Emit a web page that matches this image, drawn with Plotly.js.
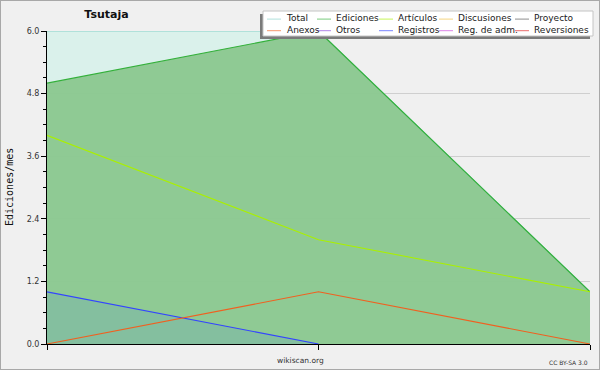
<!DOCTYPE html>
<html>
<head>
<meta charset="utf-8">
<script src="https://cdn.plot.ly/plotly-3.0.1.min.js"></script>
<style>
  html, body { margin: 0; padding: 0; background: #f0f0f0; }
  #wrap { position: relative; width: 600px; height: 370px; }
  #chart { width: 600px; height: 370px; }
  #frame { position: absolute; left: 0; top: 0; width: 598px; height: 368px;
           border: 1px solid #a8a8a8; pointer-events: none; }
</style>
</head>
<body>
<div id="wrap"><div id="chart"></div><div id="frame"></div></div>
<script>
// ---- data ----
const months = ['mes 1', 'mes 2', 'mes 3'];
const total       = [6, 6, 1];
const ediciones   = [5, 6, 1];
const articulos   = [4, 2, 1];
const discusiones = [null, null, null];
const proyecto    = [null, null, null];
const anexos      = [0, 1, 0];
const otros       = [null, null, null];
const registros   = [1, 0, null];
const regAdm      = [null, null, null];
const reversiones = [null, null, null];

const seriesNames  = ['Total', 'Ediciones', 'Artículos', 'Discusiones', 'Proyecto',
                      'Anexos', 'Otros', 'Registros', 'Reg. de adm.', 'Reversiones'];
const seriesValues = [total, ediciones, articulos, discusiones, proyecto,
                      anexos, otros, registros, regAdm, reversiones];
const seriesColors = ['#86d2ca', '#33b03a', '#aaf000', '#f0c040', '#555555',
                      '#f06020', '#8844dd', '#3344ff', '#cc44dd', '#e02020'];
const fillColors = {
  'Total': 'rgba(211,241,234,0.75)',
  'Ediciones': 'rgba(132,196,136,0.88)',
  'Registros': 'rgba(121,179,169,0.5)'
};
const drawOrder = ['Total', 'Ediciones', 'Registros', 'Artículos', 'Anexos',
                   'Discusiones', 'Proyecto', 'Otros', 'Reg. de adm.', 'Reversiones'];

const traces = drawOrder.map(name => {
  const i = seriesNames.indexOf(name);
  const t = {
    type: 'scatter', mode: 'lines', name: name,
    x: months, y: seriesValues[i],
    line: { color: seriesColors[i], width: name === 'Ediciones' ? 1.2 : 1.1 },
    showlegend: false, hoverinfo: 'skip'
  };
  if (fillColors[name]) { t.fill = 'tozeroy'; t.fillcolor = fillColors[name]; }
  return t;
});

// ---- layout helpers (pixel -> paper) ----
const PL = 47, PR = 590, PT = 31, PB = 344;
const px = p => (p - PL) / (PR - PL);
const py = p => (PB - p) / (PB - PT);

const shapes = [];
const annotations = [];

// legend box with shadow
shapes.push({ type: 'rect', xref: 'paper', yref: 'paper', layer: 'above',
  x0: px(260), x1: px(590), y0: py(14), y1: py(39),
  fillcolor: '#7a7a7a', line: { width: 0 } });
shapes.push({ type: 'rect', xref: 'paper', yref: 'paper', layer: 'above',
  x0: px(263), x1: px(593), y0: py(11), y1: py(36),
  fillcolor: '#ffffff', line: { color: '#c4c4c4', width: 1 } });

// legend: one text per column (two rows), swatches as short lines
const legendColX = [285, 335, 397, 457, 533];
const legendRowY = [18.6, 30.2];
const legendMidY = 24.4;
for (let col = 0; col < 5; col++) {
  const tx = legendColX[col];
  const names = [seriesNames[col], seriesNames[col + 5]];
  [col, col + 5].forEach((i, row) => {
    const ty = legendRowY[row];
    shapes.push({ type: 'line', xref: 'paper', yref: 'paper', layer: 'above',
      x0: px(tx - 18), x1: px(tx - 4), y0: py(ty + 0.5), y1: py(ty + 0.5),
      opacity: 0.65, line: { color: seriesColors[i], width: 1 } });
  });
  annotations.push({ xref: 'paper', yref: 'paper', x: px(tx), y: py(legendMidY),
    xanchor: 'left', yanchor: 'middle', align: 'left', showarrow: false, borderpad: 0,
    text: names.join('<br>'),
    font: { family: 'DejaVu Sans', size: 9, color: '#1a1a1a' } });
}

annotations.push({ xref: 'paper', yref: 'paper', x: px(9.5), y: py(187.5),
  xanchor: 'center', yanchor: 'middle', showarrow: false, textangle: -90,
  text: 'Ediciones/mes', font: { family: 'DejaVu Sans Mono', size: 10, color: '#111' } });
annotations.push({ xref: 'paper', yref: 'paper', x: px(300), y: py(360.5),
  xanchor: 'center', yanchor: 'middle', showarrow: false,
  text: 'wikiscan.org', font: { family: 'DejaVu Sans', size: 7.5, color: '#333' } });
annotations.push({ xref: 'paper', yref: 'paper', x: px(590), y: py(362),
  xanchor: 'right', yanchor: 'middle', showarrow: false,
  text: 'CC BY-SA 3.0', font: { family: 'DejaVu Sans', size: 6, color: '#333' } });

const layout = {
  width: 600, height: 370,
  margin: { l: PL, r: 600 - PR, t: PT, b: 370 - PB, pad: 0 },
  paper_bgcolor: '#f0f0f0', plot_bgcolor: '#f0f0f0',
  showlegend: false,
  title: { text: 'Tsutaja', x: 106.5 / 600, xanchor: 'center', xref: 'container',
           y: 1 - 14.5 / 370, yanchor: 'middle', yref: 'container',
           font: { family: 'DejaVu Sans', size: 11, weight: 700, color: '#111' } },
  xaxis: {
    type: 'category', range: [0, 2], showticklabels: false,
    ticks: 'outside', ticklen: 5, tickcolor: '#000', tickwidth: 1,
    showline: true, linecolor: '#000', linewidth: 1, showgrid: false,
    zeroline: false, fixedrange: true
  },
  yaxis: {
    range: [0, 6], dtick: 1.2, tick0: 0, tickformat: '.1f',
    ticks: 'outside', ticklen: 5, tickcolor: '#000', tickwidth: 1,
    minor: { dtick: 0.3, ticks: 'outside', ticklen: 3, tickcolor: '#000', showgrid: false },
    showline: true, linecolor: '#000', linewidth: 1,
    showgrid: true, gridcolor: '#cfcfcf', gridwidth: 1, zeroline: false,
    tickfont: { family: 'DejaVu Sans', size: 8, color: '#333' }, fixedrange: true
  },
  shapes: shapes,
  annotations: annotations
};

Plotly.newPlot('chart', traces, layout, { staticPlot: true, displayModeBar: false });
</script>
</body>
</html>
